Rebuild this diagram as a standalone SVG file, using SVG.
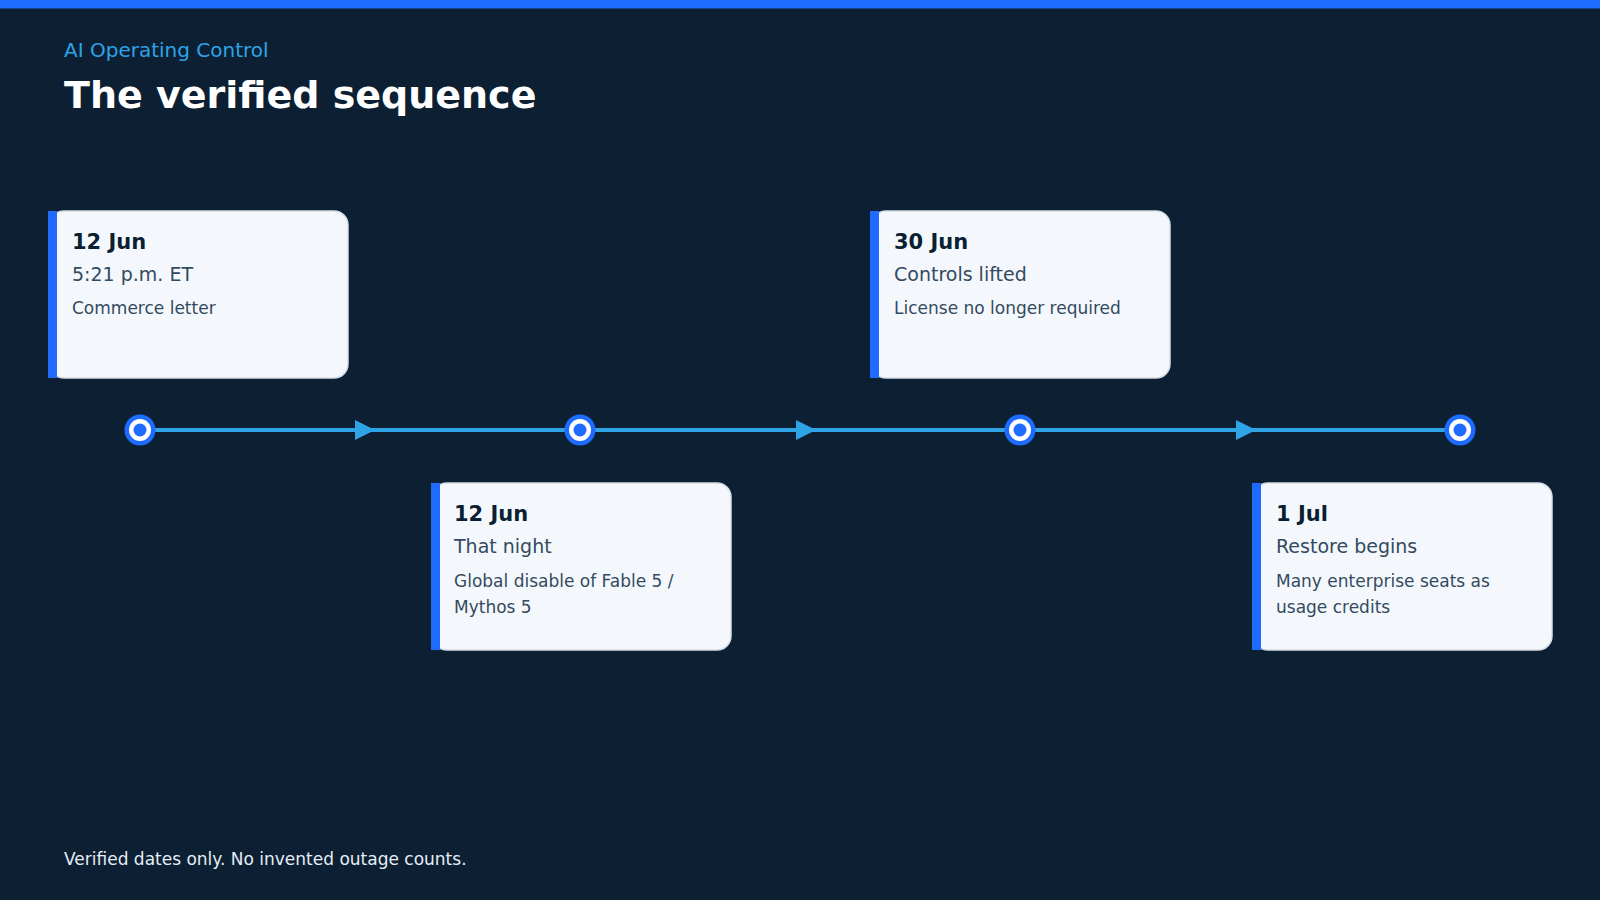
<svg xmlns="http://www.w3.org/2000/svg" width="1600" height="900" viewBox="0 0 1600 900">
<style>
text{font-family:"DejaVu Sans",sans-serif}
.card{fill:#f4f8fc;stroke:#d5dde6;stroke-width:1.5}
.acc{fill:#1f6bff}
.d{font-size:21px;font-weight:bold;fill:#0b1f33}
.s{font-size:19px;fill:#334a60}
.b{font-size:17px;fill:#334a60}
.ln{stroke:#2ea3e6;stroke-width:4}
</style>
<defs>
<marker id="ar" viewBox="0 0 10 10" refX="5" refY="5" markerWidth="5" markerHeight="5" orient="auto" markerUnits="strokeWidth"><path d="M0,0L10,5L0,10z" fill="#2ea3e6"/></marker>
<g id="nd"><circle r="15.5" fill="#1f6bff"/><circle r="11" fill="#fff"/><circle r="6.5" fill="#1f6bff"/></g>
</defs>
<rect width="1600" height="900" fill="#0c1f33"/>
<rect width="1600" height="8.5" fill="#1f6bff"/>
<text x="64" y="57" font-size="20" fill="#2ea3e6">AI Operating Control</text>
<text x="64" y="108" font-size="38" font-weight="bold" fill="#ffffff">The verified sequence</text>
<g id="connectors">
<line class="ln" x1="140" y1="430" x2="365" y2="430" marker-end="url(#ar)"/>
<line class="ln" x1="360" y1="430" x2="580" y2="430"/>
<line class="ln" x1="580" y1="430" x2="806" y2="430" marker-end="url(#ar)"/>
<line class="ln" x1="800" y1="430" x2="1020" y2="430"/>
<line class="ln" x1="1020" y1="430" x2="1246" y2="430" marker-end="url(#ar)"/>
<line class="ln" x1="1240" y1="430" x2="1460" y2="430"/>
</g>
<g id="n1"><use href="#nd" x="140" y="430"/>
<rect class="card" x="50" y="211" width="298" height="167" rx="14"/><rect class="acc" x="48" y="211" width="9" height="167"/>
<text class="d" x="72" y="249">12 Jun</text><text class="s" x="72" y="281">5:21 p.m. ET</text><text class="b" x="72" y="314">Commerce letter</text></g>
<g id="n2"><use href="#nd" x="580" y="430"/>
<rect class="card" x="433" y="483" width="298" height="167" rx="14"/><rect class="acc" x="431" y="483" width="9" height="167"/>
<text class="d" x="454" y="521">12 Jun</text><text class="s" x="454" y="553">That night</text><text class="b" x="454" y="587">Global disable of Fable 5 /</text><text class="b" x="454" y="613">Mythos 5</text></g>
<g id="n3"><use href="#nd" x="1020" y="430"/>
<rect class="card" x="872" y="211" width="298" height="167" rx="14"/><rect class="acc" x="870" y="211" width="9" height="167"/>
<text class="d" x="894" y="249">30 Jun</text><text class="s" x="894" y="281">Controls lifted</text><text class="b" x="894" y="314">License no longer required</text></g>
<g id="n4"><use href="#nd" x="1460" y="430"/>
<rect class="card" x="1254" y="483" width="298" height="167" rx="14"/><rect class="acc" x="1252" y="483" width="9" height="167"/>
<text class="d" x="1276" y="521">1 Jul</text><text class="s" x="1276" y="553">Restore begins</text><text class="b" x="1276" y="587">Many enterprise seats as</text><text class="b" x="1276" y="613">usage credits</text></g>
<text x="64" y="865" font-size="17" fill="#e6edf5">Verified dates only. No invented outage counts.</text>
</svg>
